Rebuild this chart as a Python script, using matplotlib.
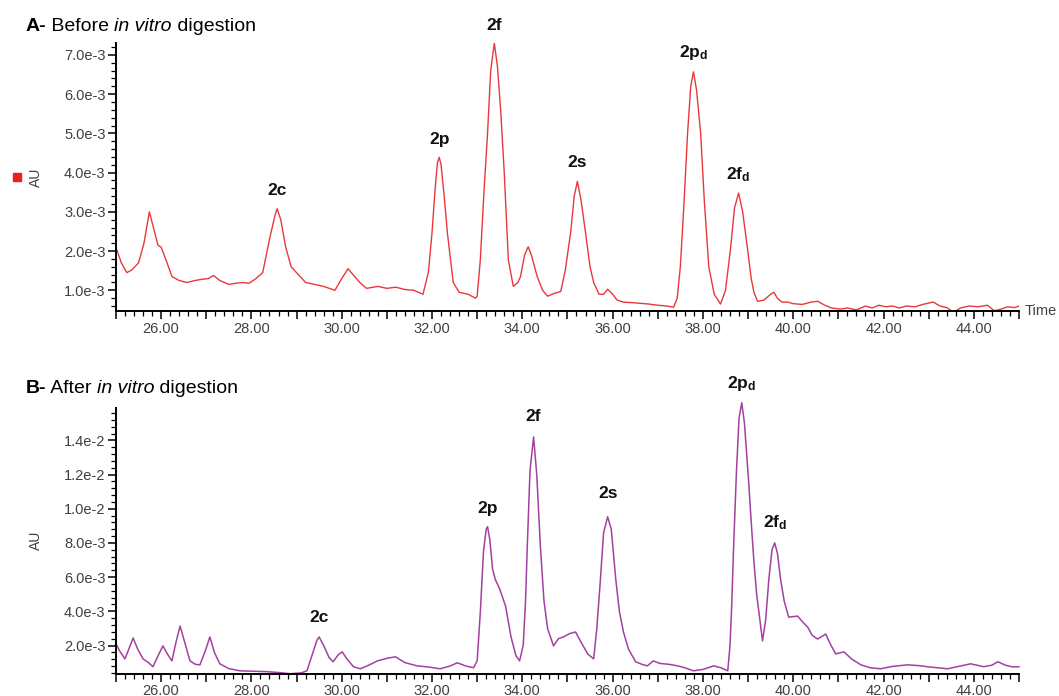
import matplotlib
matplotlib.use("Agg")
import matplotlib.pyplot as plt
from matplotlib.ticker import MultipleLocator, FuncFormatter

plt.rcParams['font.family'] = ['Liberation Sans', 'DejaVu Sans']
plt.rcParams['mathtext.fontset'] = 'custom'
plt.rcParams['mathtext.rm'] = 'Liberation Sans'
plt.rcParams['mathtext.bf'] = 'Liberation Sans:bold'
plt.rcParams['mathtext.it'] = 'Liberation Sans:italic'

# absorbance in units of 1e-3 AU, retention time in minutes
time_a = [25.0, 25.12, 25.24, 25.35, 25.5, 25.62, 25.74, 25.83, 25.93, 26.0, 26.1, 26.24,
          26.4, 26.57, 26.75, 26.9, 27.05, 27.16, 27.3, 27.5, 27.65, 27.8, 27.95, 28.1,
          28.25, 28.4, 28.52, 28.57, 28.65, 28.76, 28.88, 29.0, 29.2, 29.4, 29.6, 29.85,
          30.0, 30.14, 30.25, 30.4, 30.55, 30.8, 31.0, 31.2, 31.4, 31.6, 31.8, 31.92,
          32.0, 32.07, 32.12, 32.16, 32.2, 32.27, 32.34, 32.47, 32.6, 32.8, 32.96, 33.0,
          33.07, 33.15, 33.23, 33.3, 33.38, 33.45, 33.52, 33.6, 33.69, 33.8, 33.9, 33.96,
          34.05, 34.13, 34.2, 34.33, 34.45, 34.56, 34.7, 34.85, 34.95, 35.07, 35.15, 35.22,
          35.3, 35.4, 35.5, 35.58, 35.7, 35.8, 35.89, 36.0, 36.1, 36.24, 36.5, 36.8,
          37.0, 37.2, 37.35, 37.43, 37.5, 37.58, 37.66, 37.73, 37.79, 37.86, 37.95, 38.03,
          38.13, 38.25, 38.39, 38.5, 38.61, 38.7, 38.79, 38.88, 38.99, 39.07, 39.13, 39.21,
          39.35, 39.5, 39.57, 39.65, 39.75, 39.88, 40.0, 40.2, 40.4, 40.54, 40.7, 40.85,
          41.05, 41.2, 41.4, 41.6, 41.75, 41.9, 42.05, 42.2, 42.35, 42.5, 42.7, 42.9,
          43.1, 43.25, 43.4, 43.56, 43.7, 43.9, 44.1, 44.3, 44.45, 44.6, 44.75, 44.9, 45.0]
au_a = [2.09, 1.7, 1.45, 1.52, 1.7, 2.2, 3.0, 2.6, 2.15, 2.1, 1.8, 1.35,
        1.25, 1.2, 1.25, 1.28, 1.3, 1.38, 1.25, 1.15, 1.18, 1.2, 1.18, 1.3,
        1.45, 2.3, 2.9, 3.08, 2.8, 2.1, 1.6, 1.45, 1.2, 1.15, 1.1, 1.0,
        1.3, 1.55, 1.4, 1.2, 1.05, 1.1, 1.05, 1.08, 1.02, 1.0, 0.9, 1.46,
        2.47, 3.6, 4.25, 4.39, 4.2, 3.4, 2.47, 1.2, 0.95, 0.9, 0.8, 0.85,
        1.78, 3.5, 5.0, 6.6, 7.3, 6.7, 5.6, 4.0, 1.78, 1.1, 1.2, 1.35,
        1.9, 2.11, 1.9, 1.35, 1.0, 0.85, 0.92, 0.97, 1.5, 2.47, 3.4, 3.78,
        3.3, 2.47, 1.6, 1.2, 0.9, 0.9, 1.03, 0.9, 0.75, 0.7, 0.68, 0.65,
        0.62, 0.6, 0.57, 0.8, 1.6, 3.2, 5.0, 6.2, 6.57, 6.1, 5.0, 3.3,
        1.6, 0.9, 0.65, 1.0, 2.04, 3.1, 3.48, 3.0, 2.04, 1.3, 0.95, 0.72,
        0.75, 0.9, 0.95, 0.8, 0.7, 0.7, 0.66, 0.64, 0.7, 0.72, 0.62, 0.55,
        0.52, 0.55, 0.5, 0.6, 0.55, 0.62, 0.58, 0.6, 0.55, 0.6, 0.58, 0.65,
        0.7, 0.6, 0.56, 0.44, 0.55, 0.6, 0.58, 0.62, 0.48, 0.52, 0.58, 0.56, 0.6]

time_b = [25.0, 25.1, 25.2, 25.3, 25.38, 25.48, 25.6, 25.72, 25.82, 25.95, 26.04, 26.14,
          26.24, 26.33, 26.42, 26.5, 26.64, 26.76, 26.86, 26.98, 27.08, 27.18, 27.3, 27.5,
          27.75, 28.0, 28.35, 28.6, 28.86, 29.1, 29.23, 29.35, 29.45, 29.5, 29.6, 29.72,
          29.81, 29.92, 30.01, 30.12, 30.26, 30.41, 30.6, 30.79, 31.0, 31.19, 31.4, 31.67,
          31.9, 32.18, 32.4, 32.56, 32.75, 32.92, 33.0, 33.07, 33.14, 33.2, 33.23, 33.28,
          33.34, 33.4, 33.5, 33.63, 33.75, 33.86, 33.94, 34.02, 34.07, 34.11, 34.17, 34.25,
          34.32, 34.4, 34.48, 34.56, 34.69, 34.8, 34.91, 35.05, 35.18, 35.3, 35.45, 35.58,
          35.65, 35.73, 35.8, 35.89, 35.97, 36.07, 36.15, 36.24, 36.35, 36.51, 36.65, 36.77,
          36.9, 37.05, 37.25, 37.44, 37.6, 37.79, 38.0, 38.24, 38.4, 38.55, 38.6, 38.64,
          38.68, 38.74, 38.8, 38.86, 38.92, 39.01, 39.07, 39.13, 39.19, 39.24, 39.32, 39.39,
          39.46, 39.53, 39.59, 39.65, 39.72, 39.8, 39.9, 40.1, 40.2, 40.32, 40.42, 40.54,
          40.72, 40.82, 40.94, 41.12, 41.3, 41.5, 41.7, 41.94, 42.2, 42.54, 42.8, 43.0,
          43.2, 43.42, 43.7, 43.93, 44.22, 44.4, 44.53, 44.7, 44.85, 45.0]
au_b = [2.09, 1.6, 1.22, 1.9, 2.44, 1.8, 1.22, 1.0, 0.76, 1.5, 1.98, 1.5,
        1.1, 2.2, 3.14, 2.4, 1.1, 0.9, 0.87, 1.7, 2.5, 1.6, 0.93, 0.65,
        0.52, 0.5, 0.47, 0.42, 0.35, 0.4, 0.52, 1.5, 2.3, 2.5, 2.0, 1.3,
        1.05, 1.45, 1.63, 1.2, 0.76, 0.64, 0.85, 1.1, 1.25, 1.34, 1.0, 0.81,
        0.75, 0.64, 0.8, 0.99, 0.8, 0.7, 1.1, 3.95, 7.5, 8.8, 8.95, 8.2,
        6.5, 5.87, 5.3, 4.3, 2.5, 1.4, 1.1, 2.0, 4.5, 7.8, 12.2, 14.2,
        12.0, 7.8, 4.6, 3.0, 1.98, 2.4, 2.5, 2.7, 2.79, 2.2, 1.5, 1.22,
        3.0, 5.87, 8.6, 9.53, 8.8, 5.87, 4.0, 2.79, 1.8, 1.05, 0.9, 0.81,
        1.1, 0.95, 0.9, 0.81, 0.7, 0.52, 0.6, 0.81, 0.7, 0.52, 2.0, 4.5,
        7.8, 12.0, 15.3, 16.2, 15.0, 11.7, 9.2, 6.9, 5.0, 3.95, 2.27, 3.5,
        5.87, 7.6, 8.0, 7.4, 5.87, 4.6, 3.66, 3.72, 3.4, 3.08, 2.6, 2.38,
        2.67, 2.1, 1.51, 1.63, 1.2, 0.87, 0.7, 0.64, 0.78, 0.87, 0.82, 0.75,
        0.7, 0.64, 0.8, 0.93, 0.76, 0.85, 1.05, 0.85, 0.75, 0.76]

# peak labels: (text, time, label height in 1e-3 AU)
peaks_a = [("2c", 28.57, 3.55), ("2p", 32.16, 4.85), ("2f", 33.38, 7.75),
           ("2s", 35.22, 4.25), ("2p_d", 37.79, 7.05), ("2f_d", 38.79, 3.95)]
peaks_b = [("2c", 29.5, 3.65), ("2p", 33.23, 10.0), ("2f", 34.25, 15.4),
           ("2s", 35.89, 10.9), ("2p_d", 38.86, 17.3), ("2f_d", 39.59, 9.2)]


def au_fmt(v, pos):
    m, e = f"{v * 1e-3:.1e}".split("e")
    return f"{m}e{int(e)}"


def x_fmt(v, pos):
    return f"{v:.2f}" if round(v) % 2 == 0 else ""


def setup_axis(ax, ymin, ymax, ymajor, yminor):
    ax.set_xlim(25, 45)
    ax.set_ylim(ymin, ymax)
    for s in ("top", "right"):
        ax.spines[s].set_visible(False)
    for s in ("left", "bottom"):
        ax.spines[s].set_linewidth(1.4)
    ax.xaxis.set_major_locator(MultipleLocator(1))
    ax.xaxis.set_minor_locator(MultipleLocator(0.2))
    ax.xaxis.set_major_formatter(FuncFormatter(x_fmt))
    ax.yaxis.set_major_locator(MultipleLocator(ymajor))
    ax.yaxis.set_minor_locator(MultipleLocator(yminor))
    ax.yaxis.set_major_formatter(FuncFormatter(au_fmt))
    ax.tick_params(which="major", direction="out", length=6, width=1.1,
                   labelsize=10.5, labelcolor="#404040", pad=1.5)
    ax.tick_params(which="minor", direction="out", length=3.5, width=0.9)
    ax.set_ylabel("AU", fontsize=10, color="#404040", labelpad=15)


def peak_label(ax, name, t, y):
    if name.endswith("_d"):
        txt = r"$\mathbf{" + name[:-2] + r"}_\mathbf{d}$"
    else:
        txt = name
    ax.text(t, y, txt, ha="center", va="center", fontsize=12.5,
            fontweight="bold", color="#111111", clip_on=False)


fig = plt.figure(figsize=(10.59, 6.96), dpi=100)
ax_a = fig.add_axes([0.1095, 0.553, 0.8527, 0.385])
ax_b = fig.add_axes([0.1095, 0.032, 0.8527, 0.382])

ax_a.plot(time_a, au_a, color="#e8383c", lw=1.0)
ax_b.plot(time_b, au_b, color="#a2419f", lw=1.1, clip_on=False)

setup_axis(ax_a, 0.47, 7.3, 1.0, 0.2)
setup_axis(ax_b, 0.35, 15.9, 2.0, 0.4)

for name, t, y in peaks_a:
    peak_label(ax_a, name, t, y)
for name, t, y in peaks_b:
    peak_label(ax_b, name, t, y)

ax_a.text(1.006, 0.0, "Time", transform=ax_a.transAxes, fontsize=10.5,
          color="#404040", ha="left", va="center")
ax_a.plot([-0.1095], [0.5], marker="s", color="#e8221f", markersize=5.5,
          transform=ax_a.transAxes, clip_on=False)

# panel titles: bold letter, italic "in vitro"
for y, letter, word in [(0.955, "A-", " Before "), (0.435, "B-", " After ")]:
    t1 = fig.text(0.024, y, letter, fontsize=14, fontweight="bold", va="baseline")
    t2 = ax_a.annotate(word, xy=(1, 0), xycoords=t1, fontsize=14, va="bottom")
    t3 = ax_a.annotate("in vitro", xy=(1, 0), xycoords=t2, fontsize=14,
                       va="bottom", style="italic")
    ax_a.annotate(" digestion", xy=(1, 0), xycoords=t3, fontsize=14, va="bottom")

fig.savefig("out.png", dpi=100)
